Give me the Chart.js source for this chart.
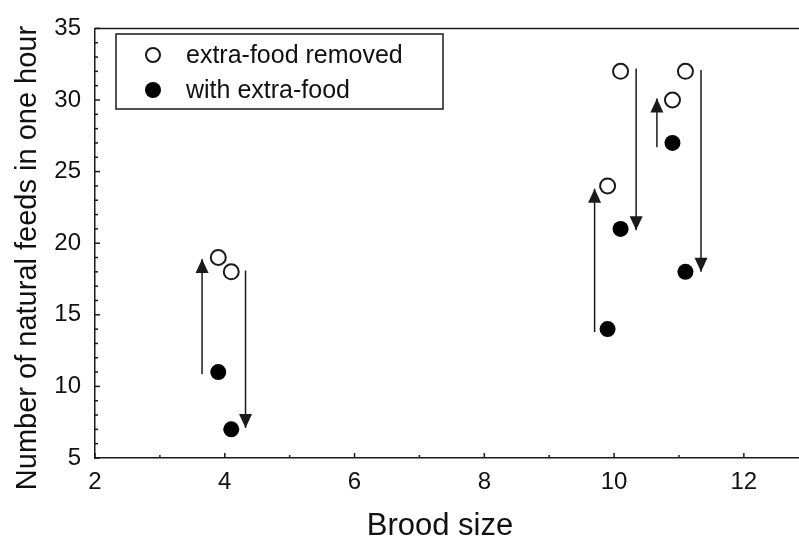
<!DOCTYPE html>
<html><head><meta charset="utf-8">
<script src="https://cdn.jsdelivr.net/npm/chart.js@4"></script>
<style>html,body{margin:0;padding:0;background:#fff}</style>
</head><body>
<canvas id="c" width="799" height="538"></canvas>
<script>
// data
const broodRemoved=[3.9,4.1,9.9,10.1,10.9,11.1];
const feedsRemoved=[19,18,24,32,30,32];
const broodWith=[3.9,4.1,9.9,10.1,10.9,11.1];
const feedsWith=[11,7,14,21,27,18];
// arrows: x position, start value, tip value
const arrowX=[3.65,4.32,9.70,10.34,10.66,11.34];
const arrowFrom=[10.85,18.1,13.8,32.2,26.7,32.1];
const arrowTo=[18.9,7.1,23.8,20.9,30.1,18.0];
const xTicks=[2,4,6,8,10,12];
const yTicks=[5,10,15,20,25,30,35];
const legendLabels=['extra-food removed','with extra-food'];
const xTitle='Brood size';
const yTitle='Number of natural feeds in one hour';

const FONT='"Liberation Sans", Arial, Helvetica, sans-serif';
const INK='#1a1a1a';

function pts(xs,ys){ return xs.map((x,i)=>({x, y:ys[i]})) }

const datasets=[
  {label:legendLabels[0], data:pts(broodRemoved,feedsRemoved), pointRadius:7.5, pointBorderWidth:2, pointBackgroundColor:'#fff', pointBorderColor:INK, showLine:false},
  {label:legendLabels[1], data:pts(broodWith,feedsWith), pointRadius:8, pointBorderWidth:0, pointBackgroundColor:'#000', pointBorderColor:'#000', showLine:false}
];
arrowX.forEach((x,i)=>{
  datasets.push({type:'line', arrow:true, data:[{x, y:arrowFrom[i]},{x, y:arrowTo[i]}], borderColor:INK, borderWidth:1.5, pointRadius:0, fill:false});
});

function seg(ctx,x1,y1,x2,y2){ ctx.beginPath(); ctx.moveTo(x1,y1); ctx.lineTo(x2,y2); ctx.stroke(); }

const extras={
  id:'extras',
  afterDraw(chart){
    const {ctx, chartArea:a, scales:{x,y}}=chart;
    ctx.save();
    ctx.strokeStyle=INK; ctx.fillStyle=INK; ctx.lineWidth=1.5;
    seg(ctx,a.left,a.top,a.right,a.top);
    // inward ticks, minor every unit
    for(let v=Math.ceil(x.min); v<=x.max; v++){
      const px=x.getPixelForValue(v), len=v%2===0?5:3;
      seg(ctx,px,a.bottom,px,a.bottom-len);
    }
    for(let v=y.min; v<=y.max; v++){
      const py=y.getPixelForValue(v), len=v%5===0?5:3;
      seg(ctx,a.left,py,a.left+len,py);
    }
    // arrow heads
    chart.data.datasets.forEach((ds,i)=>{
      if(!ds.arrow) return;
      const [p0,p1]=chart.getDatasetMeta(i).data;
      const d=p1.y>p0.y?1:-1;
      ctx.beginPath();
      ctx.moveTo(p1.x,p1.y);
      ctx.lineTo(p1.x-6.5,p1.y-d*14);
      ctx.lineTo(p1.x+6.5,p1.y-d*14);
      ctx.closePath(); ctx.fill();
    });
    // legend box
    ctx.lineWidth=1.5;
    ctx.strokeRect(116,34,327,75);
    ctx.beginPath(); ctx.arc(153,55,7,0,Math.PI*2); ctx.fillStyle='#fff'; ctx.fill(); ctx.lineWidth=2; ctx.stroke();
    ctx.beginPath(); ctx.arc(153,90,8,0,Math.PI*2); ctx.fillStyle='#000'; ctx.fill();
    ctx.fillStyle='#111'; ctx.font='25px '+FONT; ctx.textAlign='left'; ctx.textBaseline='alphabetic';
    ctx.fillText(legendLabels[0],186,63);
    ctx.fillText(legendLabels[1],186,98);
    // axis titles
    ctx.font='31px '+FONT; ctx.textAlign='center';
    ctx.fillText(xTitle,440,535);
    ctx.translate(28,258); ctx.rotate(-Math.PI/2);
    ctx.font='29px '+FONT; ctx.textBaseline='middle';
    ctx.fillText(yTitle,0,0);
    ctx.restore();
  }
};

new Chart(document.getElementById('c'),{
  type:'scatter',
  data:{datasets},
  options:{
    responsive:false, animation:false,
    layout:{autoPadding:false, padding:{top:24,left:0,right:0,bottom:0}},
    plugins:{legend:{display:false}, tooltip:{enabled:false}},
    scales:{
      x:{type:'linear', min:2, max:12.85,
        afterBuildTicks:s=>{ s.ticks=xTicks.map(v=>({value:v})) },
        afterFit:s=>{ s.height=80; s.paddingRight=0; s.paddingLeft=0 },
        grid:{display:false, drawTicks:false},
        border:{color:INK, width:1.5},
        ticks:{font:{family:FONT, size:24}, color:'#111', padding:10, maxRotation:0}},
      y:{type:'linear', min:5, max:35,
        afterBuildTicks:s=>{ s.ticks=yTicks.map(v=>({value:v})) },
        afterFit:s=>{ s.width=95 },
        grid:{display:false, drawTicks:false},
        border:{color:INK, width:1.5},
        ticks:{font:{family:FONT, size:24}, color:'#111', padding:14}}
    }
  },
  plugins:[extras]
});
</script>
</body></html>
